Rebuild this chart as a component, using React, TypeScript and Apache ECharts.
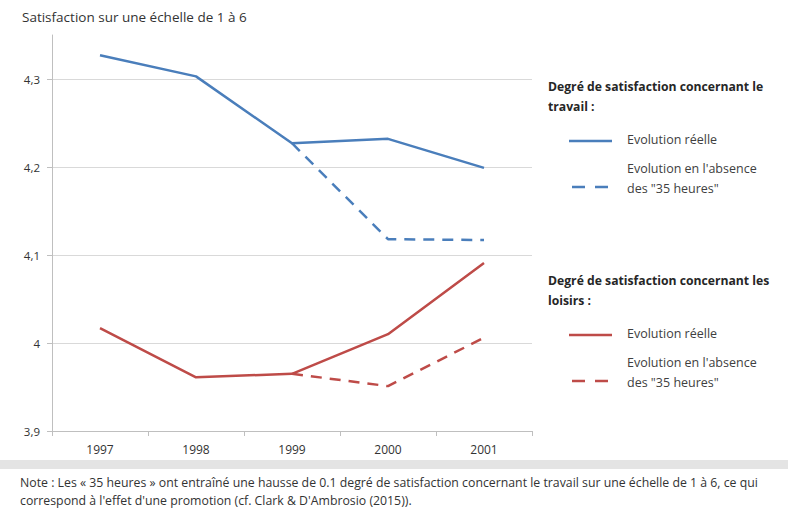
import React, { useEffect, useRef } from "react";
import * as echarts from "echarts";

const years = ["1997", "1998", "1999", "2000", "2001"];
const travailReel = [4.327, 4.303, 4.227, 4.232, 4.199];
const travailSans = [null, null, 4.227, 4.118, 4.117];
const loisirsReel = [4.017, 3.961, 3.965, 4.01, 4.091];
const loisirsSans = [null, null, 3.965, 3.951, 4.006];

const yMin = 3.9;
const yMax = 4.35;
const yStep = 0.1;

const titleText = "Satisfaction sur une échelle de 1 à 6";
const headTravail = ["Degré de satisfaction concernant le", "travail :"];
const headLoisirs = ["Degré de satisfaction concernant les", "loisirs :"];
const labelReel = "Evolution réelle";
const labelSans = ["Evolution en l'absence", "des \"35 heures\""];
const noteLines = [
  "Note : Les « 35 heures » ont entraîné une hausse de 0.1 degré de satisfaction concernant le travail sur une échelle de 1 à 6, ce qui",
  "correspond à l'effet d'une promotion (cf. Clark & D'Ambrosio (2015)).",
];

const BLUE = "#4a7ebb";
const RED = "#be4b48";
const FONT = "'Open Sans', 'Noto Sans', sans-serif";

export default function App() {
  const ref = useRef<HTMLDivElement>(null);
  useEffect(() => {
    if (!ref.current) return;
    const chart = echarts.init(ref.current, null, { renderer: "svg" });

    const txt = (x: number, y: number, text: string, font: string, fill: string) => ({
      type: "text",
      x,
      y,
      style: { text, font, fill, verticalAlign: "middle", align: "left" },
    });

    const legendBlock = (top: number, head: string[], color: string) => [
      txt(548, top, head[0], `bold 12.2px ${FONT}`, "#262626"),
      txt(548, top + 20, head[1], `bold 12.2px ${FONT}`, "#262626"),
      {
        type: "line",
        shape: { x1: 569, y1: top + 55, x2: 612, y2: top + 55 },
        style: { stroke: color, lineWidth: 2.5 },
      },
      txt(627, top + 53, labelReel, `12.5px ${FONT}`, "#404040"),
      {
        type: "line",
        shape: { x1: 572, y1: top + 101, x2: 609, y2: top + 101 },
        style: { stroke: color, lineWidth: 2.5, lineDash: [13, 10] },
      },
      txt(627, top + 82, labelSans[0], `12.5px ${FONT}`, "#404040"),
      txt(627, top + 102, labelSans[1], `12.5px ${FONT}`, "#404040"),
    ];

    chart.setOption({
      animation: false,
      backgroundColor: "#ffffff",
      grid: { left: 52, right: 256, top: 35, bottom: 82, containLabel: false },
      xAxis: {
        type: "category",
        data: years,
        boundaryGap: true,
        axisLine: { lineStyle: { color: "#bfbfbf", width: 1 } },
        axisTick: { show: true, length: 5, lineStyle: { color: "#bfbfbf" } },
        axisLabel: { color: "#333", fontSize: 12, fontFamily: FONT, margin: 12 },
      },
      yAxis: {
        type: "value",
        min: yMin,
        max: yMax,
        interval: yStep,
        axisLine: { show: true, lineStyle: { color: "#bfbfbf", width: 1 } },
        axisTick: { show: true, length: 5, lineStyle: { color: "#bfbfbf" } },
        axisLabel: {
          color: "#333",
          fontSize: 11.5,
          fontFamily: FONT,
          margin: 12,
          showMaxLabel: false,
          formatter: (v: number) => {
            const r = Math.round(v * 10) / 10;
            if (Math.abs(r - v) > 1e-6) return "";
            return String(r).replace(".", ",");
          },
        },
        splitLine: { show: true, showMaxLine: false, lineStyle: { color: "#d9d9d9", width: 1 } },
      },
      series: [
        {
          type: "line",
          data: travailSans,
          symbol: "none",
          lineStyle: { color: BLUE, width: 2.5, type: [11, 8] },
          z: 2,
        },
        {
          type: "line",
          data: loisirsSans,
          symbol: "none",
          lineStyle: { color: RED, width: 2.5, type: [11, 8] },
          z: 2,
        },
        {
          type: "line",
          data: travailReel,
          symbol: "none",
          lineStyle: { color: BLUE, width: 2.5 },
          z: 3,
        },
        {
          type: "line",
          data: loisirsReel,
          symbol: "none",
          lineStyle: { color: RED, width: 2.5 },
          z: 3,
        },
      ],
      graphic: [
        txt(22, 17, titleText, `13.5px ${FONT}`, "#333"),
        ...legendBlock(86, headTravail, BLUE),
        ...legendBlock(280, headLoisirs, RED),
        {
          type: "rect",
          shape: { x: 0, y: 460, width: 788, height: 9 },
          style: { fill: "#e4e4e4" },
        },
        txt(20, 482, noteLines[0], `12.3px ${FONT}`, "#333"),
        txt(20, 500, noteLines[1], `12.3px ${FONT}`, "#333"),
      ],
    });
    return () => chart.dispose();
  }, []);
  return (
    <div
      ref={ref}
      style={{ position: "fixed", left: 0, top: 0, width: 788, height: 513 }}
    />
  );
}
